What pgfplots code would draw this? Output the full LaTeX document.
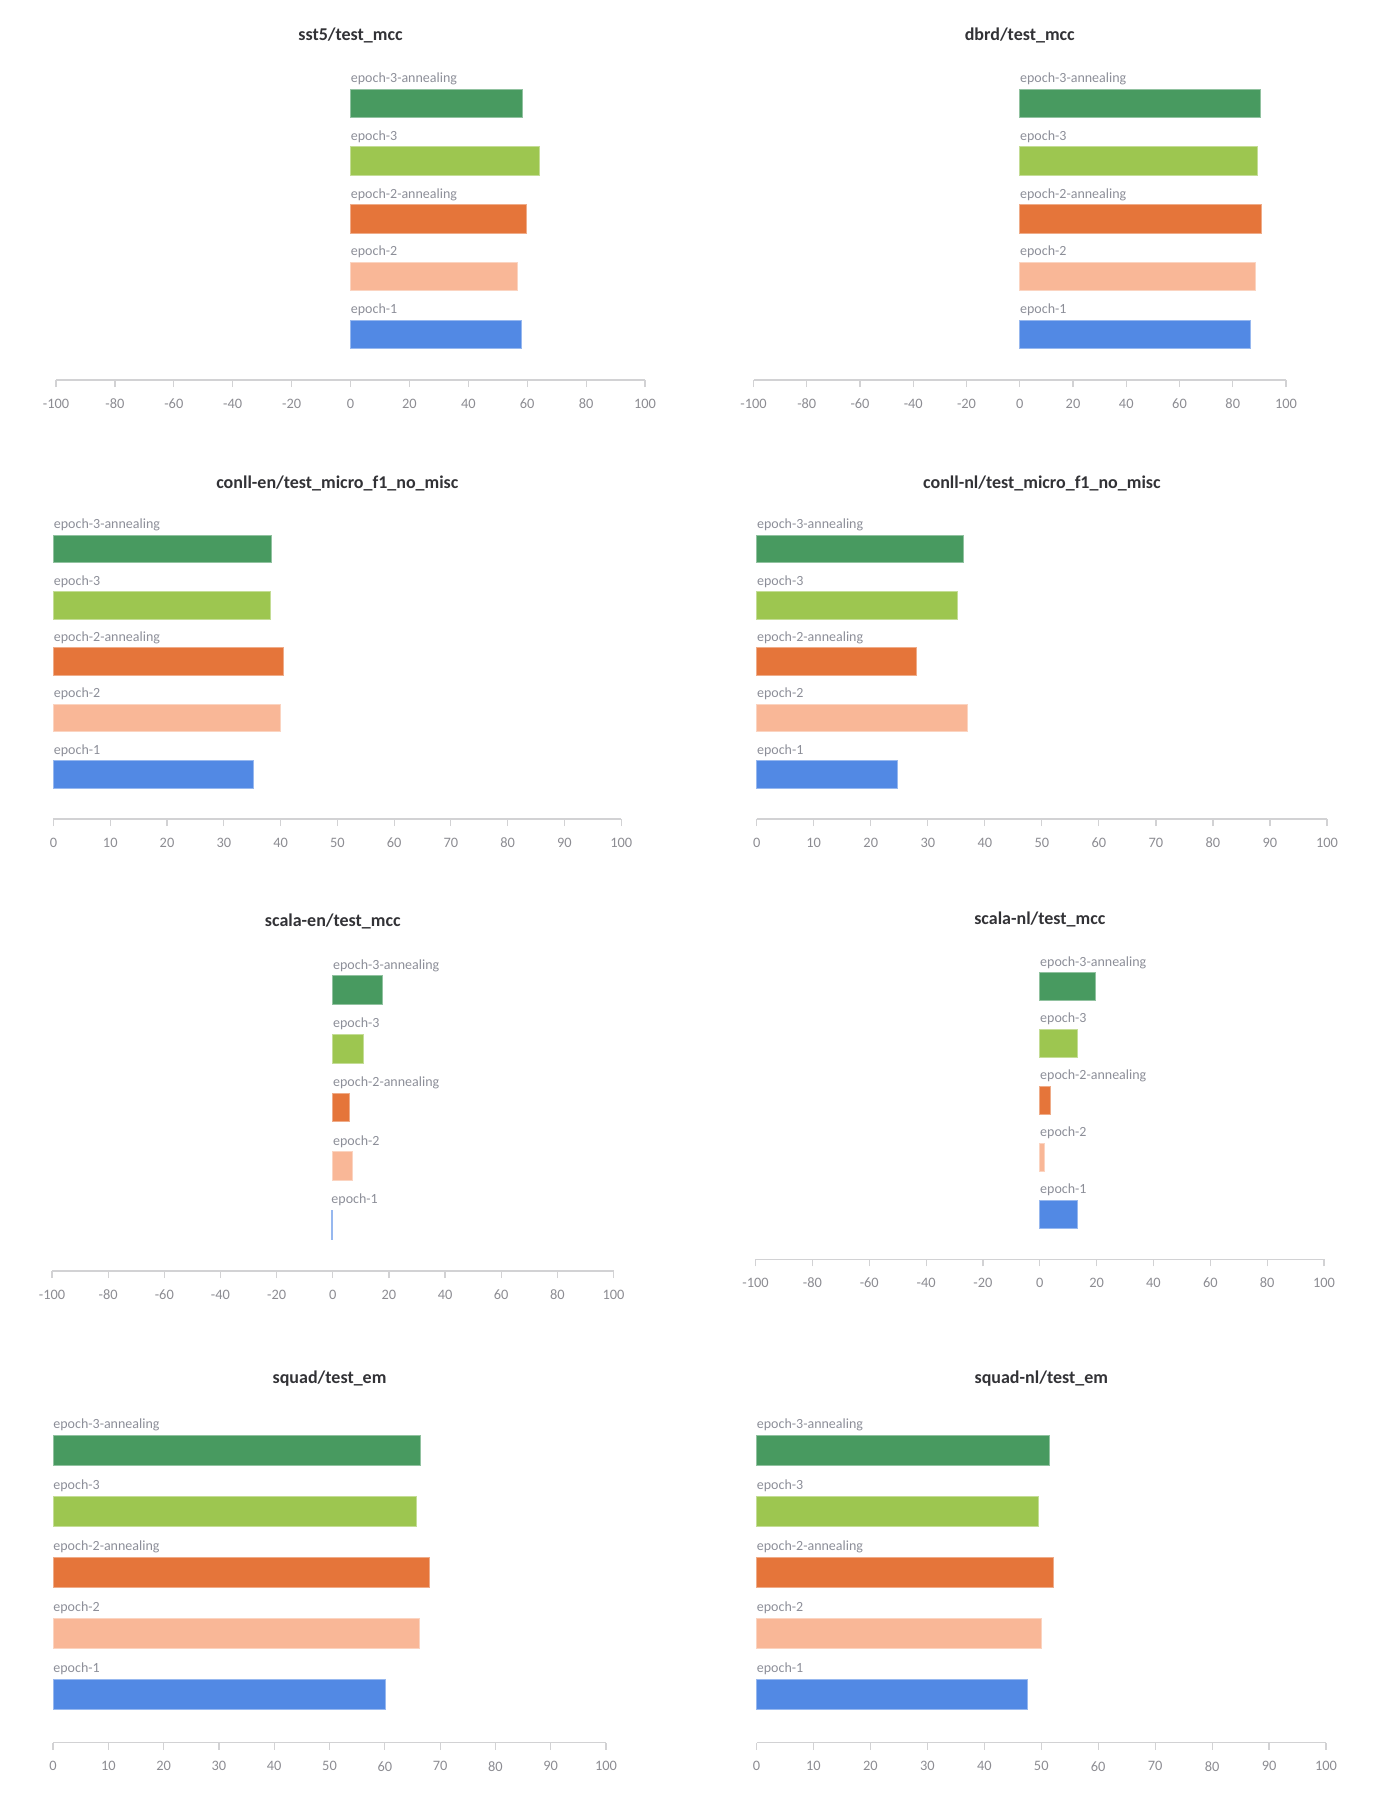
\documentclass[border=0pt]{standalone}
\usepackage{fontspec}
\setmainfont{Carlito}
\usepackage{pgfplots}
\pgfplotsset{compat=1.18}

% bar colours, one per run
\definecolor{cEa}{RGB}{82,137,228}   % epoch-1
\definecolor{cEb}{RGB}{249,183,151}  % epoch-2
\definecolor{cEc}{RGB}{229,117,58}   % epoch-2-annealing
\definecolor{cEd}{RGB}{157,198,80}   % epoch-3
\definecolor{cEe}{RGB}{72,154,96}    % epoch-3-annealing
\definecolor{axisgray}{RGB}{210,210,212}
\definecolor{ticktext}{RGB}{140,140,146}
\definecolor{lbltext}{RGB}{140,142,152}
\definecolor{titletext}{RGB}{50,50,54}

\pgfplotsset{
  every axis title shift=0pt,
  panel/.style={
    scale only axis,
    xbar, bar shift=0pt, bar width=0.49,
    ymin=-0.79, ymax=5.17,
    axis y line=none,
    axis x line*=bottom,
    x axis line style={-},
    axis line style={axisgray, line width=0.6pt},
    xtick align=outside,
    major tick length=3.5pt,
    every tick/.style={axisgray, line width=0.6pt},
    tick label style={text=ticktext, font=\fontsize{7.2}{8}\selectfont},
    xticklabel style={yshift=-2.3pt},
    /pgf/number format/assume math mode=true,
    title style={at={(0.5,1)}, anchor=center, text=titletext,
                 font=\fontsize{9}{10}\selectfont\bfseries},
    clip=false,
  },
  mcc/.style={xmin=-100, xmax=100, xtick={-100,-80,...,100}},
  pct/.style={xmin=0, xmax=100, xtick={0,10,...,100}},
  bEa/.style={fill=cEa, draw=cEa!60!white, line width=0.5pt},
  bEb/.style={fill=cEb, draw=cEb!60!white, line width=0.5pt},
  bEc/.style={fill=cEc, draw=cEc!60!white, line width=0.5pt},
  bEd/.style={fill=cEd, draw=cEd!60!white, line width=0.5pt},
  bEe/.style={fill=cEe, draw=cEe!60!white, line width=0.5pt},
}
\tikzset{lbl/.style={anchor=base west, inner sep=0pt, text=lbltext,
                     font=\fontsize{7}{8}\selectfont}}

% run names written above each bar, starting where the bar starts
\newcommand{\epochlabels}[1][0]{%
  \node[lbl] at (axis cs:0,4.36) {epoch-3-annealing};
  \node[lbl] at (axis cs:0,3.36) {epoch-3};
  \node[lbl] at (axis cs:0,2.36) {epoch-2-annealing};
  \node[lbl] at (axis cs:0,1.36) {epoch-2};
  \node[lbl] at (axis cs:#1,0.36) {epoch-1};
}

\begin{document}
\begin{tikzpicture}
\useasboundingbox (0pt,0pt) rectangle (689pt,-907pt);

% ---- sst5 ----
\begin{axis}[panel, mcc, at={(28pt,-190pt)}, anchor=south west,
  width=294.5pt, height=172.1pt, title={sst5/test\_mcc}]
  \addplot[bEa] coordinates {(58.0,0)};
  \addplot[bEb] coordinates {(56.8,1)};
  \addplot[bEc] coordinates {(59.8,2)};
  \addplot[bEd] coordinates {(64.2,3)};
  \addplot[bEe] coordinates {(58.3,4)};
  \epochlabels
\end{axis}

% ---- dbrd ----
\begin{axis}[panel, mcc, at={(376.75pt,-190pt)}, anchor=south west,
  width=266.25pt, height=172.1pt, title={dbrd/test\_mcc}]
  \addplot[bEa] coordinates {(86.7,0)};
  \addplot[bEb] coordinates {(88.6,1)};
  \addplot[bEc] coordinates {(90.8,2)};
  \addplot[bEd] coordinates {(89.3,3)};
  \addplot[bEe] coordinates {(90.4,4)};
  \epochlabels
\end{axis}

% ---- conll-en ----
\begin{axis}[panel, pct, at={(26.75pt,-409.5pt)}, anchor=south west,
  width=283.85pt, height=168pt, title={conll-en/test\_micro\_f1\_no\_misc}]
  \addplot[bEa] coordinates {(35.3,0)};
  \addplot[bEb] coordinates {(39.9,1)};
  \addplot[bEc] coordinates {(40.6,2)};
  \addplot[bEd] coordinates {(38.2,3)};
  \addplot[bEe] coordinates {(38.4,4)};
  \epochlabels
\end{axis}

% ---- conll-nl ----
\begin{axis}[panel, pct, at={(378.35pt,-409.5pt)}, anchor=south west,
  width=285.15pt, height=168pt, title={conll-nl/test\_micro\_f1\_no\_misc}]
  \addplot[bEa] coordinates {(24.6,0)};
  \addplot[bEb] coordinates {(36.9,1)};
  \addplot[bEc] coordinates {(28.0,2)};
  \addplot[bEd] coordinates {(35.2,3)};
  \addplot[bEe] coordinates {(36.2,4)};
  \epochlabels
\end{axis}

% ---- scala-en ----
\begin{axis}[panel, mcc, at={(26pt,-635.5pt)}, anchor=south west,
  width=280.75pt, height=174.65pt, title={scala-en/test\_mcc}]
  \addplot[bEa] coordinates {(-0.6,0)};
  \addplot[bEb] coordinates {(7.2,1)};
  \addplot[bEc] coordinates {(6.1,2)};
  \addplot[bEd] coordinates {(10.9,3)};
  \addplot[bEe] coordinates {(17.6,4)};
  \epochlabels[-0.6]
\end{axis}

% ---- scala-nl ----
\begin{axis}[panel, mcc, at={(377.8pt,-629.65pt)}, anchor=south west,
  width=284.2pt, height=169.7pt, title={scala-nl/test\_mcc}]
  \addplot[bEa] coordinates {(13.1,0)};
  \addplot[bEb] coordinates {(1.5,1)};
  \addplot[bEc] coordinates {(3.8,2)};
  \addplot[bEd] coordinates {(13.4,3)};
  \addplot[bEe] coordinates {(19.6,4)};
  \epochlabels
\end{axis}

% ---- squad ----
\begin{axis}[panel, pct, at={(26.5pt,-871.35pt)}, anchor=south west,
  width=276.5pt, height=182pt, title={squad/test\_em}]
  \addplot[bEa] coordinates {(60.1,0)};
  \addplot[bEb] coordinates {(66.2,1)};
  \addplot[bEc] coordinates {(68.1,2)};
  \addplot[bEd] coordinates {(65.8,3)};
  \addplot[bEe] coordinates {(66.5,4)};
  \epochlabels
\end{axis}

% ---- squad-nl ----
\begin{axis}[panel, pct, at={(378.25pt,-871.35pt)}, anchor=south west,
  width=284.75pt, height=182pt, title={squad-nl/test\_em}]
  \addplot[bEa] coordinates {(47.6,0)};
  \addplot[bEb] coordinates {(50.0,1)};
  \addplot[bEc] coordinates {(52.2,2)};
  \addplot[bEd] coordinates {(49.5,3)};
  \addplot[bEe] coordinates {(51.5,4)};
  \epochlabels
\end{axis}
\end{tikzpicture}
\end{document}
